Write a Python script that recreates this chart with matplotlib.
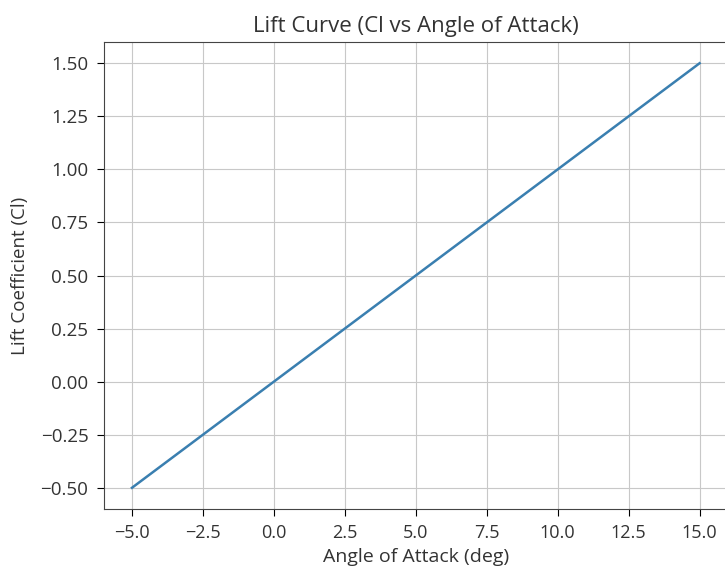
import matplotlib
matplotlib.use("Agg")
import matplotlib.pyplot as plt

plt.rcParams['font.family'] = ['Open Sans', 'DejaVu Sans']
plt.rcParams['axes.unicode_minus'] = True

angles = [-5.0, 0.0, 5.0, 10.0, 15.0]
cl = [-0.5, 0.0, 0.5, 1.0, 1.5]

fig = plt.figure(figsize=(7.25, 5.67), dpi=100)
ax = fig.add_axes([0.1429, 0.1023, 0.8612, 0.8236])
ax.plot(angles, cl, color="#3a7fb0", linewidth=1.8)
ax.set_title("Lift Curve (Cl vs Angle of Attack)", fontsize=16, color="#333333", pad=7)
ax.set_xlabel("Angle of Attack (deg)", fontsize=14, color="#333333", labelpad=4)
ax.set_ylabel("Lift Coefficient (Cl)", fontsize=13.5, color="#333333", labelpad=8)
ax.tick_params(axis="x", labelsize=13, labelcolor="#333333", length=5, pad=6)
ax.tick_params(axis="y", labelsize=13.5, labelcolor="#333333", length=5, pad=6)
ax.grid(True, color="#c8c8c8")
for s in ax.spines.values():
    s.set_color("#444444")
fig.savefig("out.png", dpi=100)
